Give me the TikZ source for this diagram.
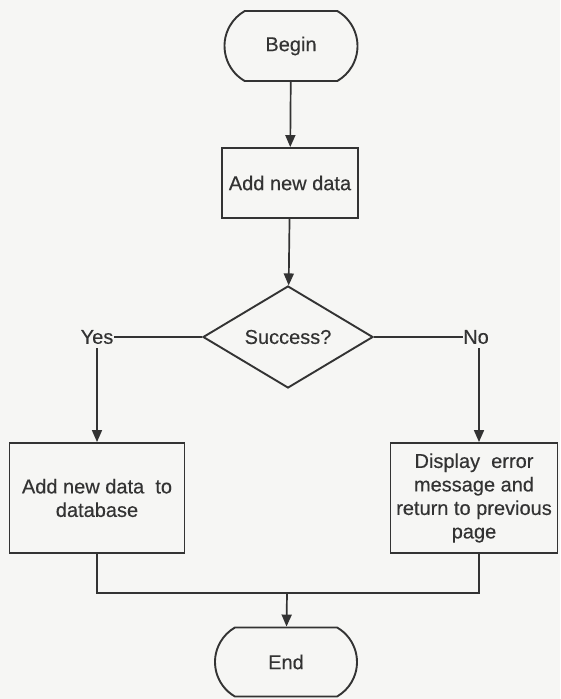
\documentclass[tikz,border=0pt]{standalone}
\usepackage{fontspec}
\setmainfont{Liberation Sans}[UprightFeatures={FakeBold=0.35}]
\usetikzlibrary{shapes.geometric,shapes.misc,arrows.meta}
\definecolor{ink}{HTML}{333333}
\definecolor{paper}{HTML}{F6F6F4}
\begin{document}
\begin{tikzpicture}[x=1pt,y=-1pt,
  every node/.style={text=ink,font=\fontsize{20}{23.5}\selectfont},
  terminal/.style={draw=ink,line width=1.9pt,rounded rectangle,
    rounded rectangle arc length=120,minimum height=70,inner sep=0pt},
  procbox/.style={draw=ink,line width=1.9pt,rectangle,inner sep=0pt,align=center},
  decision/.style={draw=ink,line width=1.9pt,diamond,inner sep=0pt,
    minimum width=170,minimum height=102},
  flow/.style={draw=ink,line width=1.7pt},
  arrow/.style={flow,-{Triangle[length=12pt,width=10pt]}}]
  % page
  \fill[paper] (0,0) rectangle (560,699);
  \useasboundingbox (0,0) rectangle (560,699);

  % nodes
  \node[terminal,minimum width=133] (begin) at (291,46) {Begin};
  \node[procbox,minimum width=136,minimum height=70] (add) at (290,183) {Add new data};
  \node[decision] (dec) at (288,337) {Success?};
  \node[inner sep=0pt] (yes) at (97,337) {Yes};
  \node[inner sep=0pt] (no) at (476,337) {No};
  \node[procbox,minimum width=175,minimum height=110] (save) at (97,498)
    {Add new data~ to\\database};
  \node[procbox,minimum width=167,minimum height=110] (err) at (474,498)
    {Display~ error\\message and\\return to previous\\page};
  \node[terminal,minimum width=142,minimum height=69] (end) at (286,662) {End};
  \coordinate (join) at (287,593);

  % connectors
  \draw[arrow] (begin) -- (add);
  \draw[arrow] (add) -- (dec);
  \draw[flow] (dec.west) -- (yes.east);
  \draw[flow] (dec.east) -- (no.west);
  \draw[arrow] ([yshift=-4pt]yes.south) -- (save.north);
  \draw[arrow] ([yshift=-4pt,xshift=3pt]no.south) -- ([xshift=3pt]no.south |- err.north);
  \draw[flow] (save.south) |- (join);
  \draw[flow] ([xshift=5pt]err.south) |- (join);
  \draw[arrow] (join) -- (end);
\end{tikzpicture}
\end{document}
